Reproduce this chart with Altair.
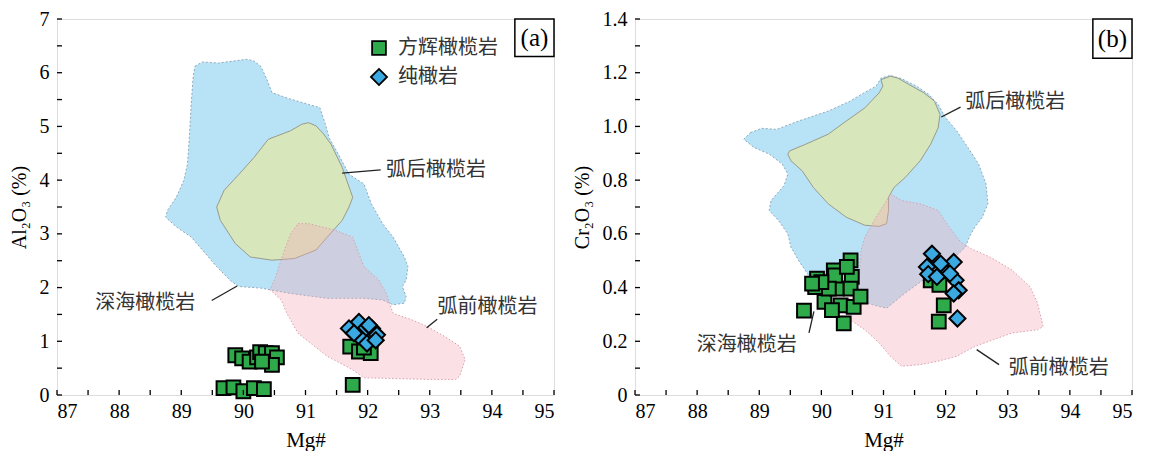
import altair as alt
import pandas as pd

# ---------------- Panel (a): Al2O3 vs Mg# ----------------
a_abyssal_x = [89.22, 89.34, 89.60, 90.05, 90.17, 90.28, 90.37, 90.46, 90.70, 91.05, 91.23, 91.32, 91.38, 91.53,
               91.70, 91.94, 92.06, 92.24, 92.41, 92.59, 92.65, 92.62, 92.56, 92.62, 92.59, 92.41, 92.24, 91.94,
               91.35, 90.76, 90.28, 89.93, 89.81, 89.57, 89.34, 89.16, 88.92, 88.75, 88.78, 88.92, 89.04, 89.10,
               89.13, 89.16, 89.19]
a_abyssal_y = [6.12, 6.20, 6.18, 6.25, 6.22, 6.12, 5.90, 5.63, 5.53, 5.41, 5.35, 5.04, 4.79, 4.48,
               4.11, 3.93, 3.56, 3.19, 2.94, 2.57, 2.39, 2.14, 2.02, 1.83, 1.71, 1.68, 1.77, 1.80,
               1.80, 1.89, 1.99, 2.02, 2.11, 2.39, 2.70, 2.94, 3.13, 3.31, 3.44, 3.68, 3.99, 4.30,
               4.79, 5.41, 5.90]
a_backarc_x = [91.05, 91.17, 91.29, 91.41, 91.59, 91.76, 91.70, 91.59, 91.35, 91.17, 90.82, 90.46, 90.11,
               89.87, 89.63, 89.57, 89.69, 89.93, 90.17, 90.40, 90.76, 90.94]
a_backarc_y = [5.07, 5.01, 4.86, 4.67, 4.24, 3.68, 3.50, 3.25, 2.94, 2.70, 2.54, 2.51, 2.57,
               2.82, 3.25, 3.50, 3.81, 4.11, 4.42, 4.76, 4.92, 5.04]
a_forearc_x = [90.88, 91.05, 91.47, 91.76, 91.88, 91.94, 92.18, 92.30, 92.41, 92.71, 92.95, 93.24, 93.48,
               93.57, 93.48, 93.42, 93.01, 91.94, 91.76, 91.35, 90.88, 90.70, 90.61, 90.43, 90.52, 90.64, 90.76]
a_forearc_y = [3.19, 3.19, 3.07, 2.94, 2.57, 2.39, 2.14, 1.89, 1.52, 1.40, 1.28, 1.09, 0.91,
               0.66, 0.35, 0.29, 0.29, 0.32, 0.47, 0.72, 1.15, 1.52, 1.77, 1.96, 2.20, 2.63, 3.00]

a_harz_x = [89.68, 89.84, 90.00, 90.17, 90.33, 91.76,
            89.87, 89.98, 90.10, 90.22, 90.27, 90.36, 90.46, 90.54, 90.46, 90.30,
            91.72, 91.86, 92.05, 91.94]
a_harz_y = [0.13, 0.14, 0.07, 0.13, 0.11, 0.19,
            0.74, 0.68, 0.62, 0.70, 0.80, 0.78, 0.78, 0.70, 0.56, 0.62,
            0.90, 0.81, 0.78, 0.88]
a_dun_x = [91.70, 91.86, 91.94, 92.07, 92.15, 91.86, 91.99, 92.13, 91.78, 92.02]
a_dun_y = [1.24, 1.36, 1.21, 1.24, 1.12, 1.09, 0.96, 1.02, 1.15, 1.30]

# ---------------- Panel (b): Cr2O3 vs Mg# ----------------
b_abyssal_x = [88.86, 89.04, 89.28, 89.63, 90.11, 90.46, 90.64, 90.88, 90.96, 91.11, 91.29, 91.53, 91.73,
               91.88, 92.00, 92.18, 92.36, 92.53, 92.65, 92.68, 92.59, 92.47, 92.38, 92.32, 92.00, 91.65,
               91.35, 91.05, 90.82, 90.52, 90.11, 89.81, 89.63, 89.51, 89.46, 89.31, 89.16, 89.19, 89.40,
               89.46, 89.37, 89.16, 88.92, 88.75]
b_abyssal_y = [0.977, 0.993, 0.989, 1.020, 1.057, 1.094, 1.119, 1.150, 1.180, 1.190, 1.178, 1.150, 1.119,
               1.082, 1.032, 0.983, 0.921, 0.860, 0.786, 0.712, 0.662, 0.625, 0.588, 0.551, 0.480, 0.430,
               0.380, 0.323, 0.336, 0.366, 0.403, 0.440, 0.502, 0.551, 0.600, 0.650, 0.687, 0.724, 0.780,
               0.823, 0.860, 0.897, 0.921, 0.952]
b_backarc_x = [89.49, 89.75, 90.11, 90.40, 90.70, 90.93, 90.99, 90.96, 91.11, 91.23, 91.41, 91.65, 91.82,
               91.91, 91.88, 91.76, 91.59, 91.35, 91.17, 91.08, 91.08, 91.05, 90.93, 90.70, 90.40, 90.11,
               89.87, 89.69, 89.51, 89.46]
b_backarc_y = [0.909, 0.934, 0.971, 1.020, 1.069, 1.125, 1.150, 1.174, 1.187, 1.180, 1.156, 1.125, 1.094,
               1.045, 0.995, 0.934, 0.872, 0.810, 0.773, 0.736, 0.687, 0.638, 0.628, 0.632, 0.662, 0.712,
               0.773, 0.835, 0.872, 0.897]
b_forearc_x = [91.11, 91.29, 91.59, 91.88, 92.06, 92.24, 92.41, 92.71, 93.07, 93.36, 93.48, 93.57, 93.48,
               93.07, 92.77, 92.47, 92.18, 91.88, 91.59, 91.29, 91.11, 90.93, 90.70, 90.46, 90.34, 90.46,
               90.61, 90.64, 90.70, 90.88, 91.05]
b_forearc_y = [0.749, 0.724, 0.712, 0.687, 0.625, 0.570, 0.545, 0.514, 0.465, 0.403, 0.342, 0.255, 0.243,
               0.231, 0.206, 0.181, 0.144, 0.126, 0.113, 0.107, 0.144, 0.194, 0.243, 0.280, 0.317, 0.366,
               0.440, 0.539, 0.588, 0.662, 0.724]

b_harz_x = [89.72, 89.90, 89.93, 90.05, 90.20, 90.25, 90.22, 90.31, 90.36, 90.47, 90.49, 90.47, 90.52,
            90.63, 90.12, 90.00, 90.41, 89.85, 90.17, 91.97, 91.89, 91.76, 91.90]
b_harz_y = [0.314, 0.402, 0.433, 0.347, 0.464, 0.396, 0.445, 0.334, 0.267, 0.501, 0.440, 0.396, 0.328,
            0.366, 0.396, 0.420, 0.477, 0.415, 0.316, 0.334, 0.273, 0.427, 0.410]
b_dun_x = [91.78, 91.70, 92.13, 91.97, 91.72, 91.86, 92.16, 92.21, 92.13, 92.19, 91.92, 92.07]
b_dun_y = [0.526, 0.477, 0.495, 0.464, 0.450, 0.440, 0.427, 0.390, 0.378, 0.285, 0.489, 0.452]

# ---------------- Labels ----------------
field_names = ["弧后橄榄岩", "深海橄榄岩", "弧前橄榄岩"]
a_label_x = [93.10, 88.42, 93.93]
a_label_y = [4.18, 1.71, 1.63]
a_lead_x1 = [91.59, 89.49, 92.95]
a_lead_y1 = [4.13, 1.76, 1.25]
a_lead_x2 = [92.21, 89.90, 93.12]
a_lead_y2 = [4.19, 2.03, 1.41]
b_label_x = [93.12, 88.80, 93.82]
b_label_y = [1.09, 0.1875, 0.099]
b_lead_x1 = [91.93, 89.80, 92.50]
b_lead_y1 = [1.035, 0.231, 0.169]
b_lead_x2 = [92.24, 89.88, 92.86]
b_lead_y2 = [1.072, 0.311, 0.113]

rock_types = ["方辉橄榄岩", "纯橄岩"]
x_ticks = [87 + 0.5 * i for i in range(17)]
x_labels = [87, 88, 89, 90, 91, 92, 93, 94, 95]

SERIF = "Liberation Serif"
CJK = "Noto Sans CJK SC"
W, H = 497, 376


def poly_df(xs, ys):
    return pd.DataFrame({"x": xs, "y": ys, "i": list(range(len(xs)))})


def make_panel(tag, ytitle, ydom, ylabels, yticks, regions, harz, dun, labels, leads, boxy, show_legend):
    xs = alt.Scale(domain=[87, 95], nice=False, zero=False)
    ys = alt.Scale(domain=ydom, nice=False, zero=False)
    xaxis = alt.Axis(values=x_labels, ticks=False, domain=False, grid=False, labelFont=SERIF,
                     labelFontSize=20, labelColor="black", labelPadding=6, title="Mg#",
                     titleFont=SERIF, titleFontSize=21, titleFontWeight="normal", titleColor="black",
                     titlePadding=8)
    if ydom[1] > 2:
        lexpr = "format(datum.value, 'd')"
    else:
        lexpr = "datum.value == 0 ? '0' : format(datum.value, '.1f')"
    yaxis = alt.Axis(values=ylabels, ticks=False, domain=False, grid=False, labelFont=SERIF,
                     labelFontSize=20, labelColor="black", labelPadding=8, labelExpr=lexpr, title=ytitle,
                     titleFont=SERIF, titleFontSize=20, titleFontWeight="normal", titleColor="black",
                     titlePadding=10)

    def X(f="x"):
        return alt.X(f, type="quantitative", scale=xs, axis=xaxis)

    def Y(f="y"):
        return alt.Y(f, type="quantitative", scale=ys, axis=yaxis)

    layers = []
    styles = [("#b8e3f7", 1.0, "#8fa9bb", [2, 2]),
              ("#f2ea8c", 0.55, "#9a9a8a", None),
              ("#f3a9b8", 0.35, "#d9a0ad", [1.5, 2])]
    for (px, py), (fill, op, stroke, dash) in zip(regions, styles):
        kw = dict(interpolate="linear-closed", fill=fill, fillOpacity=op, stroke=stroke, strokeWidth=1)
        if dash:
            kw["strokeDash"] = dash
        layers.append(alt.Chart(poly_df(px, py)).mark_line(**kw).encode(
            x=X(), y=Y(), order=alt.Order("i:Q")))

    # leader lines
    lx1, ly1, lx2, ly2 = leads
    layers.append(alt.Chart(pd.DataFrame({"x": lx1, "y": ly1, "x2": lx2, "y2": ly2})).mark_rule(
        color="#222", strokeWidth=1.3).encode(x=X(), y=Y(), x2="x2:Q", y2="y2:Q"))
    lbx, lby = labels
    layers.append(alt.Chart(pd.DataFrame({"x": lbx, "y": lby, "t": field_names})).mark_text(
        font=CJK, fontSize=20, color="#333", align="center", baseline="middle").encode(
        x=X(), y=Y(), text="t:N"))

    # markers
    mk = pd.DataFrame({
        "x": harz[0] + dun[0],
        "y": harz[1] + dun[1],
        "type": [rock_types[0]] * len(harz[0]) + [rock_types[1]] * len(dun[0]),
    })
    if show_legend:
        leg = alt.Legend(title=None, orient="none", legendX=312, legendY=19, labelFont=CJK,
                         labelFontSize=20, labelColor="#333", symbolStrokeColor="black",
                         symbolStrokeWidth=1.8, labelOffset=9, rowPadding=6)
    else:
        leg = None
    layers.append(alt.Chart(mk).mark_point(filled=True, strokeWidth=2, opacity=1).encode(
        x=X(), y=Y(),
        fill=alt.Fill("type:N", scale=alt.Scale(domain=rock_types, range=["#2eaa4a", "#3aa9e2"]), legend=leg),
        stroke=alt.Stroke("type:N", scale=alt.Scale(domain=rock_types, range=["black", "black"]), legend=leg),
        shape=alt.Shape("type:N", scale=alt.Scale(domain=rock_types, range=["square", "diamond"]), legend=leg),
        size=alt.Size("type:N", scale=alt.Scale(domain=rock_types, range=[190, 260]), legend=leg),
    ))

    # inward ticks
    layers.append(alt.Chart(pd.DataFrame({"x": x_ticks})).mark_rule(color="black", strokeWidth=1.3).encode(
        x=X(), y=alt.value(H), y2=alt.value(H - 5)))
    layers.append(alt.Chart(pd.DataFrame({"y": yticks})).mark_rule(color="black", strokeWidth=1.3).encode(
        y=Y(), x=alt.value(0), x2=alt.value(5)))

    # panel tag box
    layers.append(alt.Chart(pd.DataFrame({"x": [94.37], "x2": [95.0], "y": [boxy[0]], "y2": [boxy[1]]})).mark_rect(
        fill="white", stroke="black", strokeWidth=1.5).encode(x=X(), x2="x2:Q", y=Y(), y2="y2:Q"))
    layers.append(alt.Chart(pd.DataFrame({"x": [94.685], "y": [(boxy[0] + boxy[1]) / 2], "t": [tag]})).mark_text(
        font=SERIF, fontSize=25, color="black", align="center", baseline="middle").encode(
        x=X(), y=Y(), text="t:N"))

    return alt.layer(*layers).properties(width=W, height=H)


pa = make_panel("(a)", "Al₂O₃ (%)", [0, 7], [0, 1, 2, 3, 4, 5, 6, 7], [0.5 * i for i in range(15)],
                [(a_abyssal_x, a_abyssal_y), (a_backarc_x, a_backarc_y), (a_forearc_x, a_forearc_y)],
                (a_harz_x, a_harz_y), (a_dun_x, a_dun_y), (a_label_x, a_label_y),
                (a_lead_x1, a_lead_y1, a_lead_x2, a_lead_y2), (6.30, 7.0), True)
pb = make_panel("(b)", "Cr₂O₃ (%)", [0, 1.4], [0, 0.2, 0.4, 0.6, 0.8, 1.0, 1.2, 1.4],
                [round(0.1 * i, 1) for i in range(15)],
                [(b_abyssal_x, b_abyssal_y), (b_backarc_x, b_backarc_y), (b_forearc_x, b_forearc_y)],
                (b_harz_x, b_harz_y), (b_dun_x, b_dun_y), (b_label_x, b_label_y),
                (b_lead_x1, b_lead_y1, b_lead_x2, b_lead_y2), (1.254, 1.4), False)

chart = alt.hconcat(pa, pb, spacing=15).resolve_scale(fill="independent", shape="independent",
                                                       size="independent", stroke="independent").resolve_legend(
    fill="independent", shape="independent", size="independent", stroke="independent").properties(
    padding={"left": 0, "top": 0, "right": 5, "bottom": 0}
).configure_axis(labelFont=SERIF, titleFont=SERIF).configure_view(
    stroke="black", strokeWidth=1.5).configure(background="white")

chart.save("out.html", embed_options={"renderer": "svg", "actions": False})
